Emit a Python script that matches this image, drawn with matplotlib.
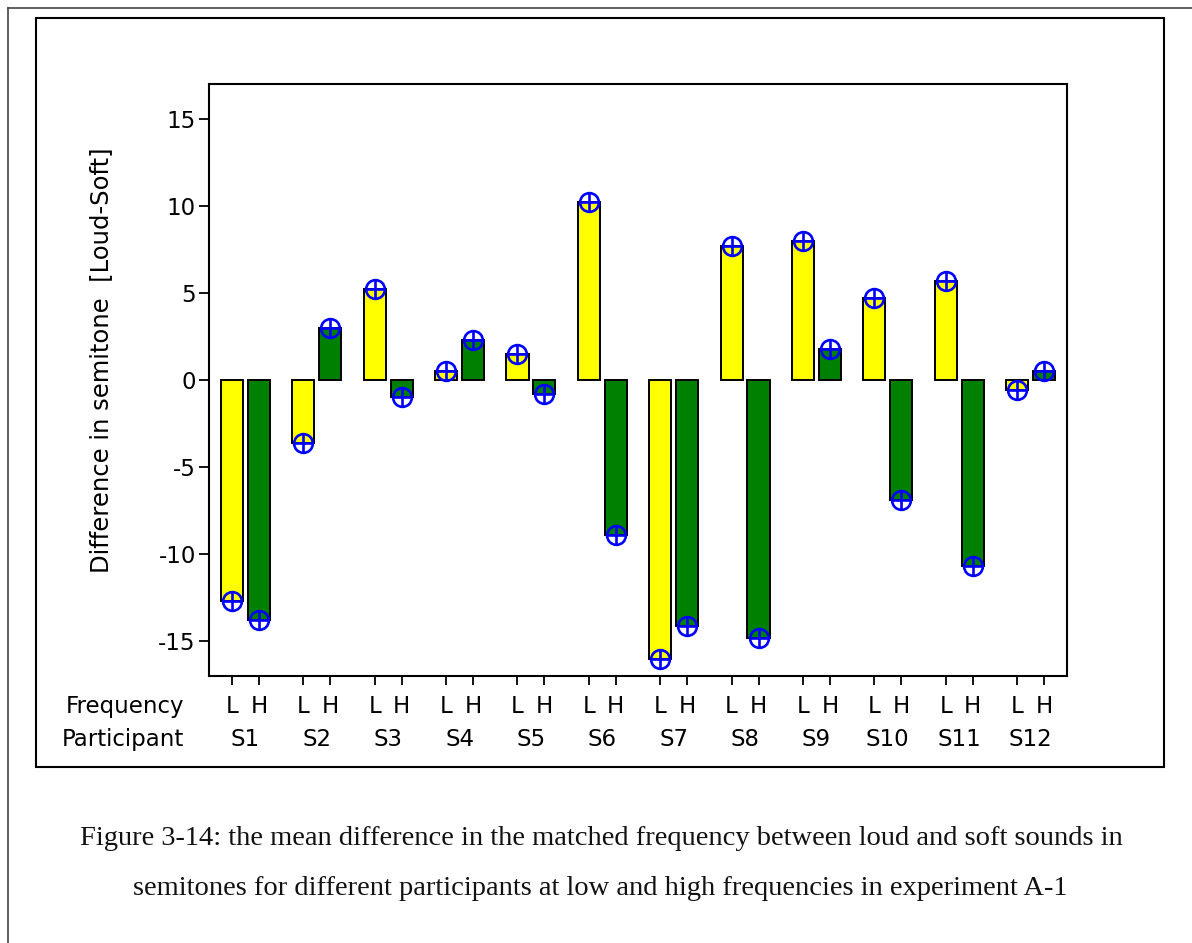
import matplotlib
matplotlib.use('Agg')
import matplotlib.pyplot as plt
from matplotlib.lines import Line2D
from matplotlib.patches import Rectangle

# ---------------- data ----------------
participants = ['S1', 'S2', 'S3', 'S4', 'S5', 'S6', 'S7', 'S8', 'S9', 'S10', 'S11', 'S12']
freq_labels = ['L', 'H']
low_vals = [-12.7, -3.6, 5.2, 0.5, 1.5, 10.2, -16.0, 7.7, 8.0, 4.7, 5.7, -0.6]
high_vals = [-13.8, 3.0, -1.0, 2.3, -0.8, -8.9, -14.1, -14.8, 1.8, -6.9, -10.7, 0.5]
yticks = [-15, -10, -5, 0, 5, 10, 15]
ylabel = 'Difference in semitone  [Loud-Soft]'
caption1 = 'Figure 3-14: the mean difference in the matched frequency between loud and soft sounds in'
caption2 = 'semitones for different participants at low and high frequencies in experiment A-1'

# ---------------- layout ----------------
W, H = 1192, 943
DPI = 100
fig = plt.figure(figsize=(W / DPI, H / DPI), dpi=DPI)
fig.patch.set_facecolor('white')

def fx(x):
    return x / W

def fy(y):
    return 1 - y / H

SANS = 'DejaVu Sans'
SERIF = 'Liberation Serif'
FS = 16.5

# axes in pixel coordinates: left 209, right 1067, top 84, bottom 676
ax = fig.add_axes([fx(209), fy(676), fx(1067) - fx(209), fy(84) - fy(676)])

offset_h = 0.378
bar_w = 0.31
x_low = [i for i in range(len(participants))]
x_high = [i + offset_h for i in range(len(participants))]

ax.bar(x_low, low_vals, width=bar_w, color='#FFFF00', edgecolor='black', linewidth=1.4, zorder=2)
ax.bar(x_high, high_vals, width=bar_w, color='#008000', edgecolor='black', linewidth=1.4, zorder=2)

for xs, vs in ((x_low, low_vals), (x_high, high_vals)):
    ax.plot(xs, vs, linestyle='none', marker='o', markersize=13.5, markerfacecolor='none',
            markeredgecolor='#0000FF', markeredgewidth=1.9, zorder=3)
    ax.plot(xs, vs, linestyle='none', marker='+', markersize=14,
            markeredgecolor='#0000FF', markeredgewidth=1.9, zorder=3)

margin = 0.322
ax.set_xlim(-margin, len(participants) - 1 + offset_h + margin)
ax.set_ylim(-17, 17)
ax.set_yticks(yticks)
ax.set_yticklabels([str(v) for v in yticks], fontsize=FS, family=SANS)
ax.tick_params(axis='y', direction='out', length=7.5, width=1.3, pad=2)

ax.set_xticks(x_low + x_high)
ax.set_xticklabels([])
ax.tick_params(axis='x', direction='out', length=6.5, width=1.3)

for s in ax.spines.values():
    s.set_linewidth(1.5)
    s.set_color('black')

# Frequency / Participant rows
for i, p in enumerate(participants):
    ax.annotate(freq_labels[0], xy=(x_low[i], 0), xycoords=('data', 'axes fraction'),
                xytext=(0, -37 * 0.72), textcoords='offset points',
                ha='center', va='baseline', fontsize=FS, family=SANS)
    ax.annotate(freq_labels[1], xy=(x_high[i], 0), xycoords=('data', 'axes fraction'),
                xytext=(0, -37 * 0.72), textcoords='offset points',
                ha='center', va='baseline', fontsize=FS, family=SANS)
    ax.annotate(p, xy=((x_low[i] + x_high[i]) / 2, 0), xycoords=('data', 'axes fraction'),
                xytext=(0, -70 * 0.72), textcoords='offset points',
                ha='center', va='baseline', fontsize=FS, family=SANS)

fig.text(fx(184), fy(713), 'Frequency', ha='right', va='baseline', fontsize=FS, family=SANS)
fig.text(fx(184), fy(746), 'Participant', ha='right', va='baseline', fontsize=FS, family=SANS)

fig.text(fx(101), fy(360), ylabel, rotation=90, ha='center', va='center', fontsize=17.5, family=SANS)

# inner frame
fig.add_artist(Rectangle((fx(36), fy(767)), fx(1164) - fx(36), fy(18) - fy(767),
                         transform=fig.transFigure, fill=False, edgecolor='black', linewidth=1.5))
# outer page border (top and left)
fig.add_artist(Line2D([fx(8), 1.0], [fy(8), fy(8)], transform=fig.transFigure, color='#444444', linewidth=1.2))
fig.add_artist(Line2D([fx(8), fx(8)], [fy(8), 0.0], transform=fig.transFigure, color='#444444', linewidth=1.2))

# caption
fig.text(fx(601), fy(845), caption1, ha='center', va='baseline', fontsize=20.5, family=SERIF, color='#111111')
fig.text(fx(600), fy(895), caption2, ha='center', va='baseline', fontsize=20.5, family=SERIF, color='#111111')

fig.savefig('out.png', dpi=DPI, facecolor='white')
